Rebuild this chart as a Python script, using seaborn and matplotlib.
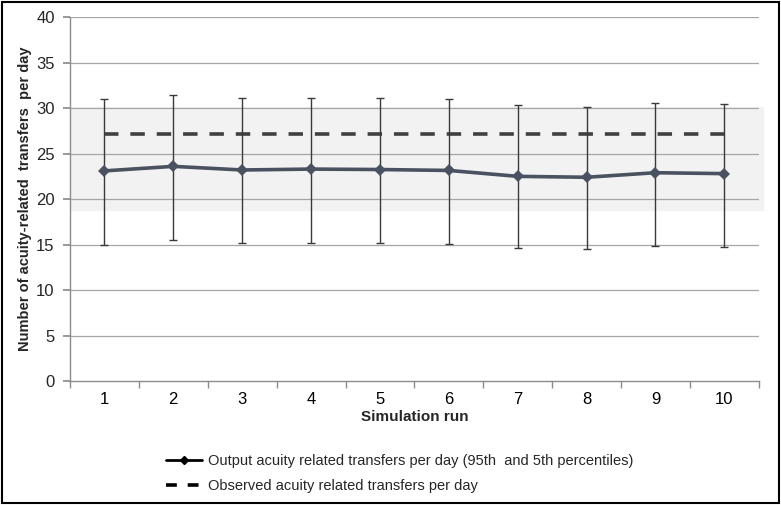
import numpy as np
import pandas as pd
import matplotlib
matplotlib.use("Agg")
import matplotlib.pyplot as plt
from matplotlib.lines import Line2D
from matplotlib.patches import Rectangle
import seaborn as sns

runs = [1, 2, 3, 4, 5, 6, 7, 8, 9, 10]
mean_transfers = [23.1, 23.6, 23.2, 23.3, 23.25, 23.15, 22.5, 22.4, 22.9, 22.8]
p95_transfers = [31.0, 31.45, 31.1, 31.1, 31.1, 31.0, 30.3, 30.1, 30.6, 30.4]
p5_transfers = [15.0, 15.45, 15.15, 15.15, 15.15, 15.05, 14.65, 14.5, 14.85, 14.75]
observed_transfers = 27.2
observed_band = (18.8, 30.1)

df = pd.DataFrame({"run": runs, "mean": mean_transfers,
                   "hi": p95_transfers, "lo": p5_transfers})

sns.set_theme(style="white")
plt.rcParams["font.family"] = ["Liberation Sans", "DejaVu Sans"]

fig = plt.figure(figsize=(7.81, 5.05), dpi=100)
ax = fig.add_axes([0.0896, 0.2455, 0.882, 0.7205])

# grey observed range band
ax.axhspan(observed_band[0], observed_band[1], xmin=0, xmax=1.006,
           color="#f2f2f2", zorder=0, clip_on=False)

for y in range(5, 45, 5):
    ax.axhline(y, color="#a6a6a6", lw=0.9, zorder=1)

# error bars (5th - 95th percentile)
ax.errorbar(df["run"], df["mean"],
            yerr=[df["mean"] - df["lo"], df["hi"] - df["mean"]],
            fmt="none", ecolor="#3a3a3a", elinewidth=1.0, capsize=3,
            capthick=1.0, zorder=3)

sns.lineplot(data=df, x="run", y="mean", ax=ax, color="#4a5160",
             lw=2.6, marker="D", markersize=6, markeredgewidth=0,
             zorder=4, legend=False)

ax.plot([runs[0], runs[-1]], [observed_transfers] * 2, color="#404040",
        lw=2.6, dashes=(4, 3.3), zorder=2)

ax.set_xlim(0.5, 10.5)
ax.set_ylim(0, 40)
ax.set_xticks(runs)
ax.set_xticks(np.arange(0.5, 11, 1), minor=True)
ax.set_yticks(range(0, 45, 5))
ax.tick_params(axis="x", which="major", length=0, labelsize=12, pad=8,
               colors="#000000")
ax.tick_params(axis="x", which="minor", length=5, color="#8c8c8c",
               direction="out", bottom=True)
ax.tick_params(axis="y", length=5, color="#8c8c8c", labelsize=12,
               left=True, pad=6)
for side in ["top", "right"]:
    ax.spines[side].set_visible(False)
for side in ["left", "bottom"]:
    ax.spines[side].set_color("#8c8c8c")
    ax.spines[side].set_linewidth(1.0)

ax.set_xlabel("Simulation run", fontsize=11, fontweight="bold", labelpad=2)
ax.set_ylabel("Number of acuity-related  transfers  per day", fontsize=10.5,
              fontweight="bold", labelpad=3)

handles = [
    Line2D([], [], color="#000000", lw=2, marker="D", markersize=4),
    Line2D([], [], color="#000000", lw=2.6, dashes=(3, 3)),
]
labels = ["Output acuity related transfers per day (95th  and 5th percentiles)",
          "Observed acuity related transfers per day"]
fig.legend(handles, labels, loc="upper left", bbox_to_anchor=(0.205, 0.113),
           frameon=False, fontsize=10.5, handlelength=2.5, handletextpad=0.35,
           labelspacing=0.75, borderaxespad=0)

fig.patches.append(Rectangle((0.003, 0.003), 0.994, 0.994,
                             transform=fig.transFigure, fill=False,
                             edgecolor="#000000", lw=1.5))

fig.savefig("out.png", dpi=100)
